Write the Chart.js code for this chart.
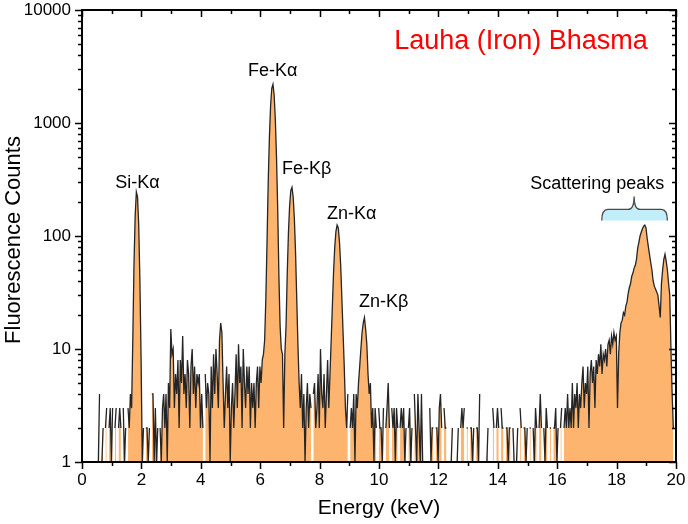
<!DOCTYPE html>
<html><head><meta charset="utf-8">
<script src="https://cdn.jsdelivr.net/npm/chart.js@4/dist/chart.umd.min.js"></script>
<style>html,body{margin:0;padding:0;background:#fff}#wrap{width:688px;height:524px}</style>
</head><body><div id="wrap"><canvas id="c" width="688" height="524"></canvas></div>
<script>
// Spectrum channels (keV)
const FIRST_CHANNEL_KEV = 0.47;
const CHANNEL_WIDTH_KEV = 0.04;

// Fluorescence counts per channel
const counts_0p5_to_5p4 = [
  2,0,1,4,0,1,2,0,2,3,0,2,3,1,3,0,2,3,0,2,3,2,0,3,1,
  2,0,3,2,4,3,12,55,150,245,222,123,40,8,1,2,0,2,2,1,2,0,4,4,1,
  3,1,2,0,2,1,3,4,2,4,1,5,3,15,9,10,3,6,4,8,2,8,5,13,4,
  6,3,8,6,2,7,10,4,7,3,6,5,6,2,4,2,0,6,3,5,4,1,7,3,9,
  4,10,6,3,12,17,14,5,2,4,7,3,6,1,3,5,2,4,9,3,11,5,7,2,10
];
const counts_5p5_to_10p4 = [
  5,3,7,4,7,2,5,3,5,2,5,7,3,7,5,8,9,12,28,89,300,750,1420,2030,2200,
  1760,1070,490,170,44,16,10,9,2,9,16,46,105,184,252,270,222,143,72,28,11,5,3,6,2,
  4,1,3,5,2,4,3,0,4,5,2,3,6,2,10,4,3,6,2,4,8,3,6,12,24,
  48,80,110,125,118,88,55,28,14,7,3,2,4,0,2,3,2,4,1,4,3,5,7,10,14,
  17,19,15,11,6,4,5,2,3,1,3,2,0,3,2,2,1,3,0,2,3,5,2,0,3
];
const counts_10p5_to_15p4 = [
  2,3,1,3,2,0,2,3,2,3,1,2,0,2,3,1,2,0,4,2,1,4,2,1,4,
  1,0,1,0,1,0,3,1,2,2,0,2,2,1,3,4,2,0,3,2,2,0,1,0,1,
  2,0,1,0,1,2,0,2,3,2,3,0,2,2,0,2,2,1,2,0,2,2,1,4,0,
  1,0,1,0,1,2,0,1,0,3,2,0,2,3,2,0,3,2,2,0,2,2,1,2,2,
  0,2,1,0,1,2,0,3,2,0,2,2,1,2,0,2,2,0,2,1,3,2,0,2,4
];
const counts_15p5_to_19p9 = [
  2,0,2,1,3,2,0,2,2,0,2,2,3,1,2,0,2,3,0,2,3,2,4,2,3,
  2,5,2,4,3,5,2,4,3,5,7,3,5,4,7,2,6,8,5,7,3,8,6,9,7,
  11,6,9,8,10,7,11,12,9,13,11,14,12,13,3,9,14,17,18,21,20,24,26,31,35,
  38,44,47,52,55,62,78,88,100,108,116,122,125,118,95,80,68,58,50,40,36,34,32,30,24,
  19,38,50,62,69,60,50,38,30,10,4,2
];

const xTickValues = [0,2,4,6,8,10,12,14,16,18,20];
const yTickValues = [1,10,100,1000,10000];
const peakNames = ['Si-K\u03b1','Fe-K\u03b1','Fe-K\u03b2','Zn-K\u03b1','Zn-K\u03b2'];
const chartTitle = 'Lauha (Iron) Bhasma';
const scatterLabel = 'Scattering peaks';
const xTitle = 'Energy (keV)';
const yTitle = 'Fluorescence Counts';

const allCounts = [].concat(counts_0p5_to_5p4, counts_5p5_to_10p4, counts_10p5_to_15p4, counts_15p5_to_19p9);
const points = allCounts.map((c, i) => ({ x: +(FIRST_CHANNEL_KEV + i * CHANNEL_WIDTH_KEV).toFixed(3), y: c }));

const FONT = "'Liberation Sans', Arial, Helvetica, sans-serif";

// label placement in data coordinates (energy, counts)
const peakLabelAt = [[1.87, 297], [6.42, 2856], [7.565, 388], [9.08, 158], [10.16, 25.8]];

const decor = {
  id: 'decor',
  afterDraw(chart) {
    const { ctx, chartArea: a, scales: { x, y } } = chart;
    ctx.save();
    // ticks
    ctx.strokeStyle = '#000';
    ctx.lineWidth = 1.5;
    ctx.beginPath();
    for (let e = 0; e <= 20; e++) {
      const px = Math.round(x.getPixelForValue(e)) + 0.5;
      const L = e % 2 === 0 ? 7 : 4;
      ctx.moveTo(px, a.bottom); ctx.lineTo(px, a.bottom + L);
      ctx.moveTo(px, a.top); ctx.lineTo(px, a.top + L);
    }
    for (let d = 0; d <= 4; d++) {
      for (let k = 1; k <= 9; k++) {
        if (d === 4 && k > 1) break;
        const py = Math.round(y.getPixelForValue(k * Math.pow(10, d))) + 0.5;
        const L = k === 1 ? 7 : 4;
        ctx.moveTo(a.left, py); ctx.lineTo(a.left - L, py);
        ctx.moveTo(a.right, py); ctx.lineTo(a.right - L, py);
      }
    }
    ctx.stroke();
    ctx.lineWidth = 2;
    ctx.strokeRect(a.left, a.top, a.right - a.left, a.bottom - a.top);

    // tick labels
    ctx.fillStyle = '#000';
    ctx.font = '17px ' + FONT;
    ctx.textBaseline = 'middle';
    ctx.textAlign = 'right';
    yTickValues.forEach(v => ctx.fillText(String(v), a.left - 11, y.getPixelForValue(v)));
    ctx.textAlign = 'center';
    xTickValues.forEach(v => ctx.fillText(String(v), x.getPixelForValue(v), a.bottom + 18));

    // axis titles
    ctx.font = '21px ' + FONT;
    ctx.fillText(xTitle, (a.left + a.right) / 2, 508);
    ctx.save();
    ctx.font = '22px ' + FONT;
    ctx.translate(14, 240);
    ctx.rotate(-Math.PI / 2);
    ctx.fillText(yTitle, 0, 0);
    ctx.restore();

    // peak labels
    ctx.font = '18px ' + FONT;
    peakNames.forEach((n, i) => {
      ctx.fillText(n, x.getPixelForValue(peakLabelAt[i][0]), y.getPixelForValue(peakLabelAt[i][1]));
    });
    ctx.fillText(scatterLabel, x.getPixelForValue(17.35), y.getPixelForValue(291));

    // title
    ctx.fillStyle = '#ff0000';
    ctx.font = '27px ' + FONT;
    ctx.fillText(chartTitle, x.getPixelForValue(14.78), y.getPixelForValue(5260));

    // brace
    const xl = x.getPixelForValue(17.5), xr = x.getPixelForValue(19.71), xm = x.getPixelForValue(18.59);
    const yEnd = y.getPixelForValue(137), yBody = y.getPixelForValue(172), yTip = y.getPixelForValue(224);
    const r = 6;
    ctx.beginPath();
    ctx.moveTo(xl, yEnd);
    ctx.quadraticCurveTo(xl, yBody, xl + r, yBody);
    ctx.lineTo(xm - r, yBody);
    ctx.quadraticCurveTo(xm, yBody, xm, yTip);
    ctx.quadraticCurveTo(xm, yBody, xm + r, yBody);
    ctx.lineTo(xr - r, yBody);
    ctx.quadraticCurveTo(xr, yBody, xr, yEnd);
    ctx.fillStyle = '#c2eefc';
    ctx.fill();
    ctx.strokeStyle = '#4a4a4a';
    ctx.lineWidth = 1.3;
    ctx.stroke();
    ctx.restore();
  }
};

new Chart(document.getElementById('c'), {
  type: 'line',
  data: {
    datasets: [{
      data: points,
      borderColor: '#252525',
      borderWidth: 1.3,
      backgroundColor: '#fdb46e',
      fill: 'start',
      pointRadius: 0,
      tension: 0
    }]
  },
  options: {
    responsive: false,
    devicePixelRatio: 1,
    animation: false,
    events: [],
    layout: { padding: { top: 10, right: 12, left: 0, bottom: 0 } },
    plugins: { legend: { display: false }, tooltip: { enabled: false } },
    scales: {
      x: {
        type: 'linear', min: 0, max: 20,
        grid: { display: false }, border: { display: false },
        afterBuildTicks: s => { s.ticks = xTickValues.map(v => ({ value: v })); },
        afterFit: s => { s.height = 62; },
        ticks: { display: false }
      },
      y: {
        type: 'logarithmic', min: 1, max: 10000,
        grid: { display: false }, border: { display: false },
        afterBuildTicks: s => { s.ticks = yTickValues.map(v => ({ value: v })); },
        afterFit: s => { s.width = 82; },
        ticks: { display: false }
      }
    }
  },
  plugins: [decor]
});
</script></body></html>
